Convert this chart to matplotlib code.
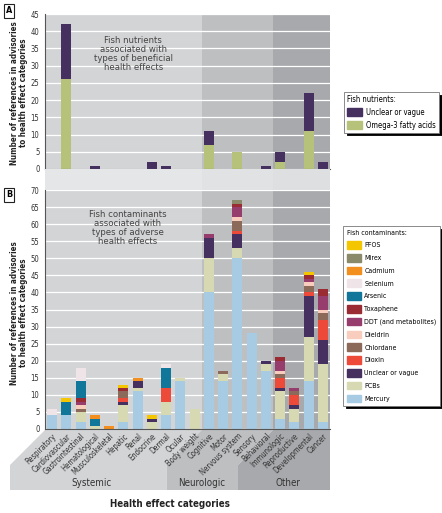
import numpy as np
import matplotlib.pyplot as plt
from matplotlib.patches import Polygon, Patch

plt.rcParams['font.family'] = ['Liberation Sans Narrow', 'DejaVu Sans']
plt.rcParams['font.stretch'] = 'condensed'

categories = ['Respiratory', 'Cardiovascular', 'Gastrointestinal', 'Hematological',
              'Musculoskeletal', 'Hepatic', 'Renal', 'Endocrine', 'Dermal', 'Ocular',
              'Body weight', 'Cognitive', 'Motor', 'Nervous system', 'Sensory',
              'Behavioral', 'Immunologic', 'Reproductive', 'Developmental', 'Cancer']

# panel A: fish nutrients
omega3 = [0, 26, 0, 0, 0, 0, 0, 0, 0, 0, 0, 7, 0, 5, 0, 0, 2, 0, 11, 0]
nutr_unclear = [0, 16, 0, 1, 0, 0, 0, 2, 1, 0, 0, 4, 0, 0, 0, 1, 3, 0, 11, 2]

# panel B: fish contaminants (stack order bottom -> top)
mercury = [4, 4, 2, 0, 0, 2, 11, 0, 4, 14, 0, 40, 14, 50, 28, 17, 3, 2, 14, 2]
pcbs = [0, 0, 3, 1, 0, 5, 1, 2, 4, 1, 6, 10, 2, 3, 0, 2, 8, 4, 13, 17]
unclear = [0, 0, 0, 0, 0, 1, 2, 1, 0, 0, 0, 6, 0, 4, 0, 1, 1, 1, 12, 7]
dioxin = [0, 0, 0, 0, 0, 1, 0, 0, 4, 0, 0, 0, 0, 1, 0, 0, 3, 3, 1, 6]
chlordane = [0, 0, 1, 0, 0, 2, 0, 0, 0, 0, 0, 0, 1, 3, 0, 0, 1, 1, 2, 2]
dieldrin = [0, 0, 1, 0, 0, 0, 0, 0, 0, 0, 0, 0, 0, 1, 0, 0, 1, 0, 1, 1]
ddt = [0, 0, 1, 0, 0, 0, 0, 0, 0, 0, 0, 1, 0, 3, 0, 0, 3, 1, 1, 4]
toxaphene = [0, 0, 1, 0, 0, 1, 0, 0, 0, 0, 0, 0, 0, 1, 0, 0, 1, 0, 1, 2]
arsenic = [0, 4, 5, 2, 0, 0, 0, 0, 6, 0, 0, 0, 0, 0, 0, 0, 0, 0, 0, 0]
selenium = [2, 0, 4, 0, 0, 0, 0, 0, 1, 0, 0, 0, 0, 0, 0, 0, 0, 0, 0, 0]
cadmium = [0, 0, 0, 1, 1, 0, 1, 0, 0, 0, 0, 0, 0, 0, 0, 0, 0, 0, 0, 0]
mirex = [0, 0, 0, 0, 0, 0, 0, 0, 0, 0, 0, 0, 0, 1, 0, 0, 0, 0, 0, 0]
pfos = [0, 1, 0, 0, 0, 1, 0, 1, 0, 0, 0, 0, 0, 0, 0, 0, 0, 0, 1, 0]

contaminants = [
    ('Mercury', mercury, '#a6cbe2'),
    ('PCBs', pcbs, '#d7d9b3'),
    ('Unclear or vague', unclear, '#45305f'),
    ('Dioxin', dioxin, '#ee4a3a'),
    ('Chlordane', chlordane, '#8c6a5a'),
    ('Dieldrin', dieldrin, '#f8cdbd'),
    ('DDT (and metabolites)', ddt, '#973d6d'),
    ('Toxaphene', toxaphene, '#9a2b33'),
    ('Arsenic', arsenic, '#11779a'),
    ('Selenium', selenium, '#efe5e8'),
    ('Cadmium', cadmium, '#f28f1f'),
    ('Mirex', mirex, '#8a8a6a'),
    ('PFOS', pfos, '#f3c600'),
]

W, H = 442, 513
fig = plt.figure(figsize=(W / 100, H / 100), dpi=100)
fig.patch.set_facecolor('white')


def fx(px):
    return px / W


def fy(py):
    return 1 - py / H


x = np.arange(len(categories))
span_cols = ['#d3d4d6', '#bebfc1', '#a8a9ac']
spans = [(-0.5, 10.5), (10.5, 15.5), (15.5, 19.5)]


def setup(ax, ymax):
    for (a, b), c in zip(spans, span_cols):
        ax.axvspan(a, b, color=c, zorder=0, lw=0)
    ax.set_xlim(-0.5, 19.5)
    ax.set_ylim(0, ymax)
    ax.set_yticks(np.arange(0, ymax + 1, 5))
    ax.yaxis.grid(True, color='white', lw=0.9, zorder=1)
    ax.set_axisbelow(True)
    for s in ['top', 'right']:
        ax.spines[s].set_visible(False)
    ax.spines['left'].set_color('#555555')
    ax.spines['bottom'].set_color('#555555')
    ax.spines['left'].set_linewidth(0.8)
    ax.spines['bottom'].set_linewidth(0.8)
    ax.tick_params(axis='y', length=0, labelsize=5.5, pad=4, colors='#333333')
    ax.tick_params(axis='x', length=0)


# panel A
axA = fig.add_axes([fx(45), fy(169), fx(330) - fx(45), fy(14) - fy(169)])
setup(axA, 45)
axA.set_xticks([])
bw = 0.7
axA.bar(x, omega3, bw, color='#b6c27a', zorder=2)
axA.bar(x, nutr_unclear, bw, bottom=omega3, color='#45305f', zorder=2)
axA.text(5.7, 33.5, 'Fish nutrients\nassociated with\ntypes of beneficial\nhealth effects',
         ha='center', va='center', fontsize=6.8, color='#444444', linespacing=1.0)

# gap band between the panels
axG = fig.add_axes([fx(45), fy(190), fx(330) - fx(45), fy(169) - fy(190)])
for (a, b), c in zip(spans, ['#e5e6e7', '#e1e2e3', '#dedfe1']):
    axG.axvspan(a, b, color=c, lw=0)
axG.set_xlim(-0.5, 19.5)
axG.axis('off')

# panel B
axB = fig.add_axes([fx(45), fy(429), fx(330) - fx(45), fy(190) - fy(429)])
setup(axB, 70)
bottom = np.zeros(len(categories))
for name, vals, col in contaminants:
    axB.bar(x, vals, bw, bottom=bottom, color=col, zorder=2)
    bottom += np.array(vals)
axB.text(5.3, 59, 'Fish contaminants\nassociated with\ntypes of adverse\nhealth effects',
         ha='center', va='center', fontsize=6.8, color='#444444', linespacing=1.0)
axB.set_xticks(x)
axB.set_xticklabels(categories, rotation=45, ha='right', rotation_mode='anchor',
                    fontsize=5.5, color='#333333')
axB.tick_params(axis='x', pad=2)

# group bands under the category labels
x1, x2, x3 = 45 + 11 * 14.25, 45 + 16 * 14.25, 330
d = 35
polys = [
    ([(45, 430), (x1, 430), (x1 - d, 465), (x1 - d, 490), (10, 490), (10, 465)], span_cols[0]),
    ([(x1, 430), (x2, 430), (x2 - d, 465), (x2 - d, 490), (x1 - d, 490), (x1 - d, 465)], span_cols[1]),
    ([(x2, 430), (x3, 430), (x3, 490), (x2 - d, 490), (x2 - d, 465)], span_cols[2]),
]
for pts, c in polys:
    fig.patches.append(Polygon([(fx(a), fy(b)) for a, b in pts], closed=True,
                               transform=fig.transFigure, facecolor=c, edgecolor='none',
                               zorder=-1))
for label, px in [('Systemic', 91), ('Neurologic', 202), ('Other', 288)]:
    fig.text(fx(px), fy(483), label, ha='center', va='center', fontsize=7, color='#333333')

fig.text(fx(170), fy(504), 'Health effect categories', ha='center', va='center',
         fontsize=7, fontweight='bold', color='#222222')

ylab = 'Number of references in advisories\nto health effect categories'
fig.text(fx(19), fy(93), ylab, rotation=90, ha='center', va='center', fontsize=5.8,
         fontweight='bold', color='#222222', linespacing=1.1)
fig.text(fx(19), fy(313), ylab, rotation=90, ha='center', va='center', fontsize=5.8,
         fontweight='bold', color='#222222', linespacing=1.1)

for lab, py in [('A', 11), ('B', 195)]:
    fig.text(fx(9), fy(py), lab, ha='center', va='center', fontsize=6.5, fontweight='bold',
             bbox=dict(boxstyle='square,pad=0.25', facecolor='white', edgecolor='#222222', lw=0.8))

# legends
h_n = [Patch(color='#45305f'), Patch(color='#b6c27a')]
leg1 = axA.legend(h_n, ['Unclear or vague', 'Omega-3 fatty acids'], title='Fish nutrients:',
                  loc='upper left', bbox_to_anchor=(fx(340), fy(88)),
                  bbox_transform=fig.transFigure, fontsize=5.5, title_fontsize=5.5,
                  alignment='left', frameon=True, fancybox=False, framealpha=1,
                  edgecolor='#777777', shadow={'color': 'black', 'alpha': 1},
                  handlelength=2.0, handleheight=1.1, labelspacing=0.5,
                  borderpad=0.4, handletextpad=0.5)
leg1.get_frame().set_linewidth(0.6)

h_c = [Patch(color=c) for _, _, c in contaminants][::-1]
l_c = [n for n, _, _ in contaminants][::-1]
leg2 = axB.legend(h_c, l_c, title='Fish contaminants:', loc='upper left',
                  bbox_to_anchor=(fx(340), fy(223)), bbox_transform=fig.transFigure,
                  fontsize=5.0, title_fontsize=5.0, alignment='left', frameon=True,
                  fancybox=False, framealpha=1, edgecolor='#777777',
                  shadow={'color': 'black', 'alpha': 1},
                  handlelength=2.0, handleheight=1.3, labelspacing=0.75,
                  borderpad=0.5, handletextpad=0.5)
leg2.get_frame().set_linewidth(0.6)

fig.savefig('out.png', dpi=100)
